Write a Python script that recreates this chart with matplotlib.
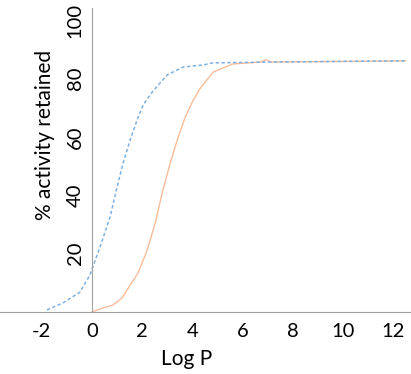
import matplotlib
matplotlib.use('Agg')
import matplotlib.pyplot as plt

plt.rcParams['font.family'] = ['Lato', 'DejaVu Sans']
plt.rcParams['axes.unicode_minus'] = False

# data
blue_x = [-1.8, -1.16, -0.48, -0.08, 0.32, 0.72, 1.0, 1.24, 1.52, 1.8, 2.04,
          2.4, 3.0, 3.64, 4.44, 4.8, 7.12, 12.5]
blue_y = [0.7, 3.1, 6.8, 12.7, 22.3, 32.5, 42.8, 51.0, 58.9, 65.8, 70.9,
          75.3, 81.2, 83.9, 84.6, 85.3, 85.6, 86.0]

orange_x = [0.0, 0.44, 0.84, 1.2, 1.52, 1.84, 2.2, 2.52, 2.8, 3.12, 3.4,
            3.72, 4.0, 4.32, 4.84, 5.24, 5.6, 6.2, 6.72, 6.95, 7.12, 12.5]
orange_y = [0.0, 1.4, 2.4, 4.8, 9.2, 13.4, 21.2, 30.5, 40.8, 51.0, 58.9,
            66.8, 71.9, 76.7, 82.2, 83.6, 84.9, 85.3, 85.6, 86.4, 85.6, 86.0]

x_ticks = [-2, 0, 2, 4, 6, 8, 10, 12]
y_ticks = [20, 40, 60, 80, 100]

fig = plt.figure(figsize=(4.11, 3.74), dpi=100)
ax = fig.add_axes([0, 62 / 374, 1, 304 / 374])

ax.plot(orange_x, orange_y, color='#f9bc98', lw=1.0)
ax.plot(blue_x, blue_y, color='#7db0e2', lw=1.1, linestyle=(0, (2.2, 1.6)))

ax.set_xlim(-92 / 25.08, 319 / 25.08)
ax.set_ylim(0, 104.1)

for s in ['top', 'right']:
    ax.spines[s].set_visible(False)
ax.spines['left'].set_position(('data', 0))
ax.spines['left'].set_color('#a0a0a0')
ax.spines['bottom'].set_color('#a0a0a0')

ax.set_xticks(x_ticks)
ax.set_yticks(y_ticks)
ax.tick_params(length=0, labelsize=14.5)
ax.tick_params(axis='x', pad=8)
ax.tick_params(axis='y', pad=6)
for lab in ax.get_yticklabels():
    lab.set_rotation(90)
    lab.set_va('center')

fig.text(187 / 411, 1 - 359 / 374, 'Log P', ha='center', va='center', fontsize=15)
fig.text(45 / 411, 1 - 135 / 374, '% activity retained', rotation=90,
         ha='center', va='center', fontsize=15)

fig.savefig('out.png', dpi=100)
